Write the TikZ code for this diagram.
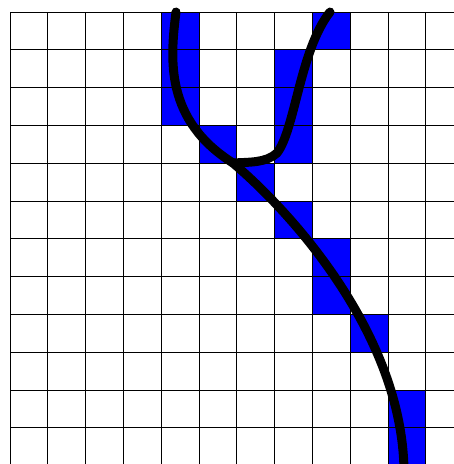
\documentclass[tikz,border=0pt]{standalone}
\begin{document}
\begin{tikzpicture}[x=1pt,y=-1pt,
  cellfill/.style={fill=blue},
  gridline/.style={line width=0.9pt,black},
  curve/.style={line width=9pt,black,line cap=round,line join=round}]
\useasboundingbox (0,0) rectangle (454,464);
\def\cs{37.8}
% blue cells (col,row)
\foreach \c/\r in {4/0,4/1,4/2,5/3,6/4,7/1,7/2,7/3,8/0,7/5,8/6,8/7,9/8,10/10,10/11}{
  \fill[cellfill] ({10+\c*\cs},{12+\r*\cs}) rectangle ++(\cs,\cs);
}
\begin{scope}
\clip (0,0) rectangle (454,464);
\foreach \i in {0,...,12}{
  \draw[gridline] ({10+\i*\cs},12) -- ({10+\i*\cs},470);
  \draw[gridline] (10,{12+\i*\cs}) -- (460,{12+\i*\cs});
}
\coordinate (j) at (233,163);
\draw[curve] (176,12) .. controls (170,60) and (165,120) .. (j)
  .. controls (300,220) and (402,340) .. (404,470);
\draw[curve] (330,12) .. controls (300,50) and (295,130) .. (277,153)
  .. controls (266,163) and (250,162) .. (j);
\end{scope}
\end{tikzpicture}
\end{document}
